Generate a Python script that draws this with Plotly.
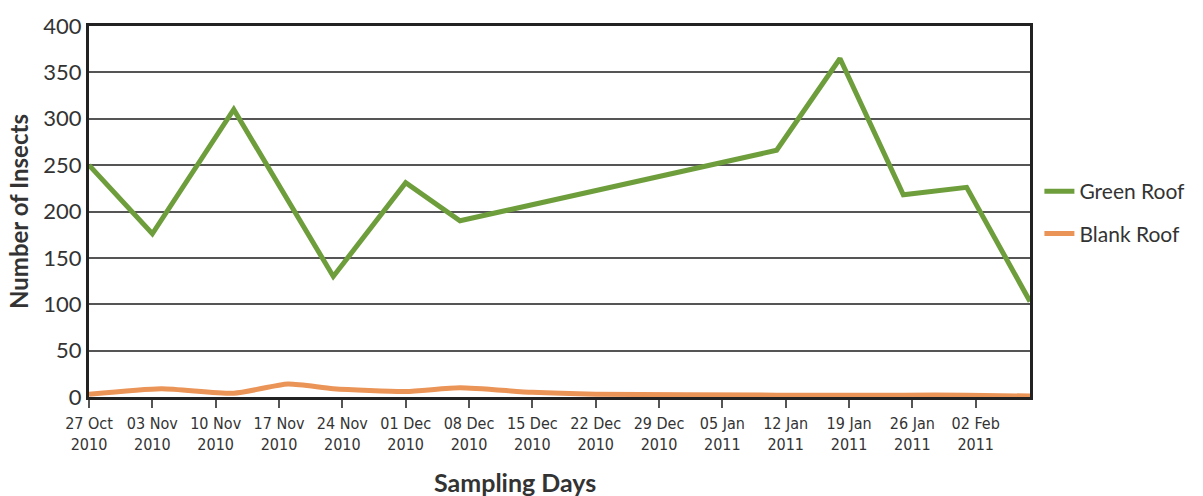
import plotly.graph_objects as go

# Sampling dates and insect counts per roof type
green_dates = ["2010-10-27", "2010-11-03", "2010-11-12", "2010-11-23", "2010-12-01",
               "2010-12-07", "2011-01-11", "2011-01-18", "2011-01-25", "2011-02-01",
               "2011-02-08"]
green_counts = [250, 176, 310, 130, 231, 190, 266, 365, 218, 226, 103]

blank_dates = ["2010-10-27", "2010-11-04", "2010-11-12", "2010-11-18", "2010-11-23",
               "2010-12-01", "2010-12-07", "2010-12-15", "2010-12-22", "2011-01-11",
               "2011-01-18", "2011-01-25", "2011-02-01", "2011-02-08"]
blank_counts = [3, 9, 4, 14, 9, 6, 10, 5, 3, 2, 2, 2, 2, 1]

tick_dates = ["2010-10-27", "2010-11-03", "2010-11-10", "2010-11-17", "2010-11-24",
              "2010-12-01", "2010-12-08", "2010-12-15", "2010-12-22", "2010-12-29",
              "2011-01-05", "2011-01-12", "2011-01-19", "2011-01-26", "2011-02-02"]
tick_labels = ["27 Oct<br>2010", "03 Nov<br>2010", "10 Nov<br>2010", "17 Nov<br>2010",
               "24 Nov<br>2010", "01 Dec<br>2010", "08 Dec<br>2010", "15 Dec<br>2010",
               "22 Dec<br>2010", "29 Dec<br>2010", "05 Jan<br>2011", "12 Jan<br>2011",
               "19 Jan<br>2011", "26 Jan<br>2011", "02 Feb<br>2011"]

GREEN = "#6e9e3c"
ORANGE = "#eb9458"
TEXT = "#333333"
BODY_FONT = "Lato, 'Open Sans', sans-serif"
NARROW_FONT = "'DejaVu Sans Condensed', 'Liberation Sans Narrow', sans-serif"

fig = go.Figure()
fig.add_trace(go.Scatter(
    x=green_dates, y=green_counts, name="Green Roof", mode="lines",
    line=dict(color=GREEN, width=5), legendgroup="g", cliponaxis=False,
))
fig.add_trace(go.Scatter(
    x=blank_dates, y=blank_counts, name="Blank Roof", mode="lines",
    line=dict(color=ORANGE, width=5, shape="spline", smoothing=0.6),
    legendgroup="b", cliponaxis=False,
))

fig.update_layout(
    width=1203, height=496,
    margin=dict(l=89, r=173, t=18, b=99),
    plot_bgcolor="white", paper_bgcolor="white",
    showlegend=True,
    legend=dict(
        x=1.01, y=0.497, xanchor="left", yanchor="middle",
        font=dict(family=BODY_FONT, size=21, color=TEXT),
        tracegroupgap=12, traceorder="grouped",
        bgcolor="rgba(0,0,0,0)",
    ),
    xaxis=dict(
        type="date",
        range=["2010-10-27", "2011-02-08"],
        tickvals=tick_dates, ticktext=tick_labels,
        tickfont=dict(family=NARROW_FONT, size=16, color=TEXT),
        ticklabelstandoff=2,
        ticks="outside", ticklen=8, tickwidth=2, tickcolor="#555555",
        showgrid=False, zeroline=False,
        showline=True, linecolor="#222222", linewidth=3, mirror=True,
    ),
    yaxis=dict(
        range=[0, 400], dtick=50,
        tickfont=dict(family=BODY_FONT, size=22, color=TEXT),
        showgrid=True, gridcolor="#555555", gridwidth=2,
        zeroline=False, ticks="",
        showline=True, linecolor="#222222", linewidth=3, mirror=True,
        title=dict(text="Number of Insects",
                   font=dict(family=BODY_FONT, size=24, color=TEXT, weight="bold"),
                   standoff=8),
    ),
    annotations=[dict(
        text="Sampling Days", xref="paper", yref="paper",
        x=0.453, y=-0.228, xanchor="center", yanchor="middle", showarrow=False,
        font=dict(family=BODY_FONT, size=25, color=TEXT, weight="bold"),
    )],
)

fig.write_html("out.html")
